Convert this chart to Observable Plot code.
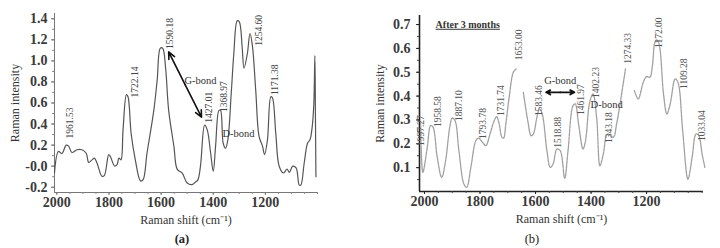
<!DOCTYPE html>
<html><head><meta charset="utf-8">
<script src="https://cdn.jsdelivr.net/npm/d3@7"></script>
<script src="https://cdn.jsdelivr.net/npm/@observablehq/plot@0.6"></script>
<style>
body{margin:0;background:#fff;font-family:"Liberation Serif","Times New Roman",serif;}
#wrap{display:flex;width:720px;height:248px;overflow:hidden;}
.panel{position:relative;width:360px;height:248px;}
.panel svg{display:block;}
.cap{position:absolute;top:229px;width:40px;text-align:center;font-size:12.5px;color:#222;line-height:20px;}
</style></head><body>
<div id="wrap"><div class="panel" id="pa"></div><div class="panel" id="pb"></div></div>
<script>
// ---------- Panel (a) data ----------
const shiftA = [2009,1994,1981,1964,1955,1942,1923,1904,1887,1878,1865,1856,1846,1827,1818,1801,1795,1778,1769,1762,1754,1746,1733,1727,1715,1699,1679,1669,1654,1628,1615,1603,1594,1583,1571,1551,1538,1519,1500,1481,1468,1459,1449,1433,1423,1410,1400,1391,1378,1372,1362,1353,1344,1331,1321,1308,1300,1289,1282,1269,1259,1250,1237,1224,1211,1203,1192,1179,1173,1160,1147,1130,1117,1108,1095,1082,1070,1064,1051,1038,1029,1020,1014,1010,1008,1006];
const intensityA = [-0.065,0.14,0.12,0.20,0.19,0.13,0.156,0.156,0.12,0.036,0.06,0.077,0.03,-0.096,-0.09,0.11,0.093,0.0,0.014,0.077,0.06,0.345,0.68,0.66,0.31,0.06,-0.14,-0.128,0.125,0.53,0.82,1.12,1.12,0.94,0.53,0.19,-0.03,-0.065,-0.16,-0.175,-0.15,-0.13,0.0,0.39,0.345,0.125,-0.05,0.19,0.53,0.53,0.22,0.17,0.25,0.69,1.07,1.38,1.37,1.13,0.93,1.07,1.26,1.15,0.72,0.28,0.19,0.11,0.25,0.66,0.65,0.31,0.0,-0.065,-0.027,-0.058,0.0,-0.017,-0.18,-0.18,0.03,0.22,0.25,0.38,0.6,1.05,0.5,-0.1];
const peakTextA = ["1961.53","1722.14","1590.18","1427.01","1368.97","1254.60","1171.38"];
const peakXA = [1949,1699,1567,1417,1357,1225,1164];
const peakYA = [0.41,0.80,1.26,0.56,0.66,1.29,0.82];
const xTicks = [2000,1800,1600,1400,1200];
const xTickLabels = ["2000","1800","1600","1400","1200"];
const yTicksA = [-0.2,0,0.2,0.4,0.6,0.8,1.0,1.2,1.4];
const yTickLabelsA = ["-0.2","-0.0","0.2","0.4","0.6","0.8","1.0","1.2","1.4"];
const bondTextA = ["G-bond","D-bond"];
const bondXA = [1449,1303];
const bondYA = [0.81,0.31];
const arrowA = {x1:1571, y1:1.085, x2:1445, y2:0.465};

// ---------- Panel (b) data ----------
const shiftB = [2014,2006,1990,1978,1970,1954,1938,1924,1909,1900,1890,1876,1858,1848,1833,1815,1805,1791,1779,1764,1749,1740,1731,1721,1715,1707,1695,1680,1670,1657,1644,1628,1616,1608,1595,1586,1576,1559,1547,1537,1523,1511,1495,1483,1465,1457,1445,1429,1420,1405,1393,1380,1368,1356,1341,1320,1308,1290,1276,1260,1244,1230,1212,1200,1188,1179,1170,1163,1155,1139,1127,1115,1097,1087,1070,1051,1036,1022,1012,1000,990];
const intensityB = [0.29,0.08,0.185,0.276,0.272,0.143,0.059,0.129,0.269,0.308,0.297,0.171,0.031,0.017,0.101,0.213,0.224,0.206,0.192,0.241,0.297,0.314,0.283,0.227,0.224,0.283,0.395,0.5,0.514,null,0.416,0.297,0.234,0.241,0.311,0.346,0.325,0.171,0.101,0.115,0.178,0.171,0.055,0.171,0.36,0.367,0.283,0.178,0.213,0.374,0.409,0.311,0.108,0.157,0.241,0.227,0.283,0.409,0.514,null,0.423,0.388,0.458,0.482,0.479,0.528,0.626,0.636,0.619,0.409,0.325,0.367,0.472,0.458,0.255,0.052,0.143,0.241,0.234,0.157,0.101];
const peakTextB = ["1997.27","1958.58","1887.10","1793.78","1731.74","1653.00","1583.46","1518.88","1461.97","1402.23","1343.18","1274.33","1172.00","1109.28","1033.04"];
const peakXB = [2011,1950,1876,1791,1725,1658,1586,1519,1435,1383,1336,1266,1155,1066,1000];
const peakYB = [0.255,0.335,0.36,0.285,0.381,0.615,0.381,0.248,0.385,0.457,0.268,0.6,0.666,0.494,0.276];
const yTicksB = [0.1,0.2,0.3,0.4,0.5,0.6,0.7];
const yTickLabelsB = ["0.1","0.2","0.3","0.4","0.5","0.6","0.7"];
const bondTextB = ["G-bond","D-bond"];
const bondXB = [1511,1344];
const bondYB = [0.465,0.364];
const arrowB = {x1:1562, y1:0.416, x2:1460, y2:0.416};
const noteB = "After 3 months";

const FONT = '"Liberation Serif","Times New Roman",serif';
const W = 360, H = 228;

function fmtFrom(ticks, labels){
  const m = new Map(ticks.map((t,i)=>[(+t).toFixed(3), labels[i]]));
  return d => m.get((+d).toFixed(3)) ?? "";
}
function doubleArrow(a, opts){
  const mx = (a.x1+a.x2)/2, my = (a.y1+a.y2)/2;
  return Plot.arrow([{x1:mx,y1:my,x2:a.x1,y2:a.y1},{x1:mx,y1:my,x2:a.x2,y2:a.y2}],
    {x1:"x1",y1:"y1",x2:"x2",y2:"y2", ...opts});
}
function titles(){
  return [
    Plot.text(["Raman intensity"], {frameAnchor:"left", dx:-39, rotate:-90, textAnchor:"middle", lineAnchor:"middle", fontSize:12, fill:"#333"}),
    Plot.text(["Raman shift (cm⁻¹)"], {frameAnchor:"bottom", dy:28, textAnchor:"middle", lineAnchor:"middle", fontSize:12, fill:"#333"})
  ];
}

// ---------- Plot (a) ----------
const dataA = shiftA.map((s,i)=>({s, v:intensityA[i]}));
const xDomA = [2009, 1000], yDomA = [-0.25, 1.45];
const plotA = Plot.plot({
  width: W, height: H,
  marginLeft: 54, marginRight: 43, marginTop: 13, marginBottom: 36,
  style: {fontFamily: FONT, background: "transparent", overflow: "visible"},
  x: {domain: xDomA},
  y: {domain: yDomA},
  marks: [
    Plot.ruleX([xDomA[0]], {stroke:"#777", strokeWidth:1}),
    Plot.ruleY([yDomA[0]], {stroke:"#777", strokeWidth:1}),
    Plot.axisX({ticks: d3.range(1000, 2001, 50), tickSize: 2, tickFormat: () => "", label: null, stroke:"#888"}),
    Plot.axisY({ticks: d3.range(-0.2, 1.41, 0.1), tickSize: 2, tickFormat: () => "", label: null, stroke:"#888"}),
    Plot.axisX({ticks: xTicks, tickFormat: fmtFrom(xTicks, xTickLabels), tickSize: 3, tickPadding: 2, fontSize: 14, fontWeight: "bold", fill:"#3a3a3a", stroke:"#777", label: null}),
    Plot.axisY({ticks: yTicksA, tickFormat: fmtFrom(yTicksA, yTickLabelsA), tickSize: 3, tickPadding: 4, fontSize: 14, fontWeight: "bold", fill:"#3a3a3a", stroke:"#777", label: null}),
    ...titles(),
    Plot.line(dataA, {x:"s", y:"v", stroke:"#555", strokeWidth:1.2, curve:"catmull-rom"}),
    Plot.text(peakTextA, {x:(d,i)=>peakXA[i], y:(d,i)=>peakYA[i], text:d=>d, rotate:-90, fontSize:9.5, fill:"#444"}),
    Plot.text(bondTextA, {x:(d,i)=>bondXA[i], y:(d,i)=>bondYA[i], text:d=>d, fontSize:10.5, fill:"#333"}),
    doubleArrow(arrowA, {stroke:"#111", strokeWidth:1.6, headLength:7, headAngle:50})
  ]
});
document.getElementById("pa").appendChild(plotA);
const capA = document.createElement("div"); capA.className="cap"; capA.textContent="(a)";
capA.style.left = (182-20)+"px"; capA.style.fontWeight="bold";
document.getElementById("pa").appendChild(capA);

// ---------- Plot (b) ----------
const dataB = shiftB.map((s,i)=>({s, v:intensityB[i]}));
const xDomB = [2018, 995], yDomB = [0, 0.738];
const plotB = Plot.plot({
  width: W, height: H,
  marginLeft: 59, marginRight: 17, marginTop: 15, marginBottom: 37,
  style: {fontFamily: FONT, background: "transparent", overflow: "visible"},
  x: {domain: xDomB},
  y: {domain: yDomB},
  marks: [
    Plot.ruleX([xDomB[0]], {stroke:"#222", strokeWidth:1.6}),
    Plot.ruleY([yDomB[0]], {stroke:"#222", strokeWidth:1.4}),
    Plot.axisX({ticks: d3.range(1000, 2001, 50), tickSize: 2, tickFormat: () => "", label: null, stroke:"#444"}),
    Plot.axisY({ticks: d3.range(0.05, 0.71, 0.05), tickSize: 2, tickFormat: () => "", label: null, stroke:"#444"}),
    Plot.axisX({ticks: xTicks, tickFormat: fmtFrom(xTicks, xTickLabels), tickSize: 3, tickPadding: 2, fontSize: 14, fontWeight: "bold", fill:"#3a3a3a", stroke:"#222", label: null}),
    Plot.axisY({ticks: yTicksB, tickFormat: fmtFrom(yTicksB, yTickLabelsB), tickSize: 3, tickPadding: 6, fontSize: 14, fontWeight: "bold", fill:"#3a3a3a", stroke:"#222", label: null}),
    ...titles(),
    Plot.line(dataB, {x:"s", y:"v", stroke:"#a0a0a0", strokeWidth:1.3, strokeDasharray:"3,1", curve:"catmull-rom"}),
    Plot.text(peakTextB, {x:(d,i)=>peakXB[i], y:(d,i)=>peakYB[i], text:d=>d, rotate:-90, fontSize:9.5, fill:"#555"}),
    Plot.text(bondTextB, {x:(d,i)=>bondXB[i], y:(d,i)=>bondYB[i], text:d=>d, fontSize:10.5, fill:"#333"}),
    Plot.text([noteB], {x:1960, y:0.70, text:d=>d, textAnchor:"start", fontSize:10, fontWeight:"bold", fill:"#333"}),
    doubleArrow(arrowB, {stroke:"#111", strokeWidth:1.8, headLength:7, headAngle:55})
  ]
});
plotB.querySelectorAll("text").forEach(t => { if (t.textContent === noteB) t.setAttribute("text-decoration","underline"); });
document.getElementById("pb").appendChild(plotB);
const capB = document.createElement("div"); capB.className="cap"; capB.textContent="(b)";
capB.style.left = (172-20)+"px";
document.getElementById("pb").appendChild(capB);
</script>
</body></html>
